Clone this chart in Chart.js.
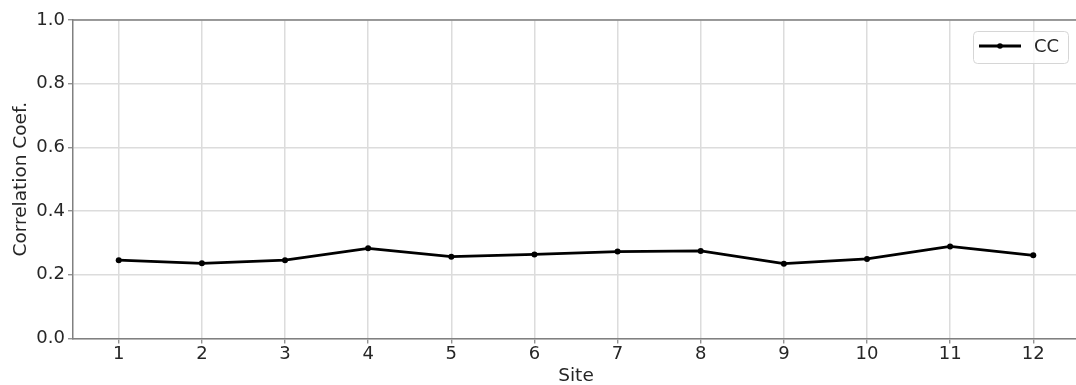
<!DOCTYPE html>
<html>
<head>
<meta charset="utf-8">
<script src="https://cdn.jsdelivr.net/npm/chart.js@4.4.0/dist/chart.umd.min.js"></script>
<style>
html,body{margin:0;padding:0;background:#fff;overflow:hidden;}
#wrap{width:1090px;height:385px;}
</style>
</head>
<body>
<div id="wrap"><canvas id="c" width="1090" height="385"></canvas></div>
<script>
const sites = [1,2,3,4,5,6,7,8,9,10,11,12];
const ccValues = [0.246,0.236,0.246,0.283,0.257,0.264,0.273,0.275,0.235,0.250,0.289,0.261];
const yTicks = [0.0,0.2,0.4,0.6,0.8,1.0];
const seriesLabel = 'CC';
const xTitle = 'Site';
const yTitle = 'Correlation Coef.';

const FONT = "'DejaVu Sans', sans-serif";
const TXT = '#262626';
const SPINE = '#808080';
const GRID = '#dcdcdc';

const framePlugin = {
  id: 'frame',
  afterDraw(chart) {
    const {ctx, chartArea: a} = chart;
    ctx.save();
    ctx.strokeStyle = SPINE; ctx.lineWidth = 1.5;
    ctx.beginPath(); ctx.moveTo(a.left, a.top); ctx.lineTo(a.right, a.top); ctx.stroke();
    ctx.fillStyle = TXT;
    ctx.font = "18.5px " + FONT;
    ctx.textAlign = 'center'; ctx.textBaseline = 'middle';
    ctx.fillText(xTitle, (a.left + a.right) / 2, 376);
    ctx.save();
    ctx.translate(21, (a.top + a.bottom) / 2);
    ctx.rotate(-Math.PI / 2);
    ctx.fillText(yTitle, 0, 0);
    ctx.restore();
    const ds = chart.data.datasets[0];
    const bx = 973.5, by = 31.5, bw = 95, bh = 32, r = 4;
    ctx.beginPath();
    ctx.moveTo(bx + r, by);
    ctx.lineTo(bx + bw - r, by); ctx.quadraticCurveTo(bx + bw, by, bx + bw, by + r);
    ctx.lineTo(bx + bw, by + bh - r); ctx.quadraticCurveTo(bx + bw, by + bh, bx + bw - r, by + bh);
    ctx.lineTo(bx + r, by + bh); ctx.quadraticCurveTo(bx, by + bh, bx, by + bh - r);
    ctx.lineTo(bx, by + r); ctx.quadraticCurveTo(bx, by, bx + r, by);
    ctx.closePath();
    ctx.fillStyle = 'rgba(255,255,255,0.8)'; ctx.fill();
    ctx.strokeStyle = '#d6d6d6'; ctx.lineWidth = 1; ctx.stroke();
    const ly = 46;
    ctx.strokeStyle = '#000'; ctx.lineWidth = 2.8;
    ctx.beginPath(); ctx.moveTo(979, ly); ctx.lineTo(1021, ly); ctx.stroke();
    ctx.fillStyle = '#000';
    ctx.beginPath(); ctx.arc(1000, ly, 2.8, 0, Math.PI * 2); ctx.fill();
    ctx.fillStyle = TXT; ctx.font = "18px " + FONT;
    ctx.textAlign = 'left'; ctx.textBaseline = 'middle';
    ctx.fillText(ds.label, 1034, ly + 1);
    ctx.restore();
  }
};

new Chart(document.getElementById('c'), {
  type: 'line',
  data: {
    datasets: [{
      label: seriesLabel,
      data: sites.map((s, i) => ({x: s, y: ccValues[i]})),
      borderColor: '#000',
      backgroundColor: '#000',
      borderWidth: 2.8,
      pointRadius: 3,
      pointBorderWidth: 0,
      pointHoverRadius: 3,
      tension: 0,
      fill: false
    }]
  },
  options: {
    responsive: false,
    animation: false,
    events: [],
    layout: {padding: {left: 0, right: 11, top: 20, bottom: 0}},
    plugins: {legend: {display: false}, tooltip: {enabled: false}},
    scales: {
      x: {
        type: 'linear',
        min: 0.45, max: 12.55,
        afterBuildTicks(scale) { scale.ticks = sites.map(v => ({value: v})); },
        afterFit(scale) { scale.height = 46.5; },
        grid: {color: GRID, lineWidth: 1.5, drawTicks: true, tickLength: 5, tickColor: SPINE, tickWidth: 1.2},
        border: {display: true, color: SPINE, width: 1.5},
        ticks: {
          color: TXT, font: {family: FONT, size: 18}, padding: 0,
          maxRotation: 0, autoSkip: false,
          callback: v => String(v)
        }
      },
      y: {
        type: 'linear',
        min: 0, max: 1,
        afterBuildTicks(scale) { scale.ticks = yTicks.map(v => ({value: v})); },
        afterFit(scale) { scale.width = 73; },
        grid: {color: GRID, lineWidth: 1.5, drawTicks: true, tickLength: 5, tickColor: SPINE, tickWidth: 1.2},
        border: {display: true, color: SPINE, width: 1.5},
        ticks: {
          color: TXT, font: {family: FONT, size: 18}, padding: 3,
          callback: v => Number(v).toFixed(1)
        }
      }
    }
  },
  plugins: [framePlugin]
});
</script>
</body>
</html>
